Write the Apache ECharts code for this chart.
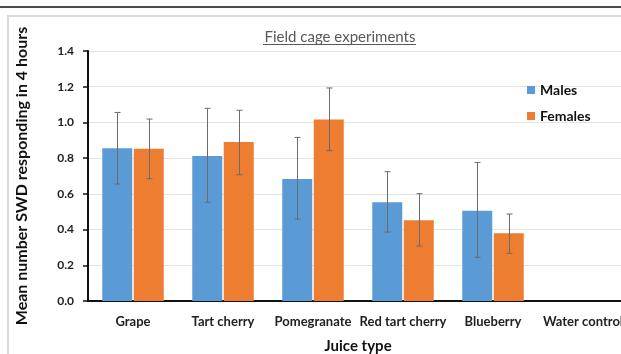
<!DOCTYPE html>
<html><head><meta charset="utf-8">
<script src="https://cdn.jsdelivr.net/npm/echarts@6/dist/echarts.min.js"></script>
<style>html,body{margin:0;padding:0;background:#fff;overflow:hidden}#c{width:621px;height:354px}</style>
</head><body><div id="c"></div>
<script>
const categories = ['Grape','Tart cherry','Pomegranate','Red tart cherry','Blueberry','Water control'];
const malesMean = [0.855, 0.812, 0.683, 0.553, 0.506, 0];
const malesLow  = [0.655, 0.553, 0.459, 0.386, 0.245, 0];
const malesHigh = [1.056, 1.079, 0.916, 0.724, 0.776, 0];
const femalesMean = [0.853, 0.890, 1.017, 0.452, 0.379, 0];
const femalesLow  = [0.685, 0.707, 0.842, 0.308, 0.267, 0];
const femalesHigh = [1.019, 1.068, 1.193, 0.601, 0.487, 0];
const yTicks = [0.0, 0.2, 0.4, 0.6, 0.8, 1.0, 1.2, 1.4];

const chart = echarts.init(document.getElementById('c'));
const font = 'Lato, "Open Sans", "DejaVu Sans", sans-serif';

function errSeries(low, high, offset, name) {
  return {
    type: 'custom', name: name + ' err', silent: true, z: 10,
    data: categories.map((c, i) => [i, low[i], high[i]]).filter(d => d[2] > 0),
    renderItem: function (params, api) {
      const i = api.value(0);
      const p0 = api.coord([i, api.value(1)]);
      const p1 = api.coord([i, api.value(2)]);
      const x = Math.round(p0[0] + offset) + 0.5;
      const cap = 3;
      const st = {stroke: '#6b6b6b', lineWidth: 1};
      return {type: 'group', children: [
        {type: 'line', shape: {x1: x, y1: p0[1], x2: x, y2: p1[1]}, style: st},
        {type: 'line', shape: {x1: x - cap, y1: p0[1], x2: x + cap, y2: p0[1]}, style: st},
        {type: 'line', shape: {x1: x - cap, y1: p1[1], x2: x + cap, y2: p1[1]}, style: st}
      ]};
    }
  };
}

chart.setOption({
  animation: false,
  backgroundColor: '#fff',
  textStyle: {fontFamily: font},
  title: {
    text: 'Field cage experiments', left: 335, top: 25, textAlign: 'center',
    textStyle: {fontSize: 15, fontWeight: 'normal', color: '#595959', fontFamily: font}
  },
  graphic: [
    {type: 'line', shape: {x1: 0, y1: 7, x2: 621, y2: 7}, style: {stroke: '#111', lineWidth: 1.5}},
    {type: 'polyline', shape: {points: [[8, 354], [8, 16], [621, 16]]}, style: {stroke: '#d9d9d9', lineWidth: 2, fill: null}},
    {type: 'line', shape: {x1: 263, y1: 44.5, x2: 416, y2: 44.5}, style: {stroke: '#595959', lineWidth: 1}}
  ],
  legend: {
    orient: 'vertical', left: 522, top: 78, itemGap: 12,
    itemWidth: 8, itemHeight: 8, icon: 'rect',
    textStyle: {fontSize: 14, fontWeight: 'bold', color: '#111', fontFamily: font},
    data: ['Males', 'Females']
  },
  grid: {left: 88, right: -7, top: 51, bottom: 53, containLabel: false, outerBoundsMode: 'none'},
  xAxis: {
    type: 'category', data: categories,
    axisLine: {lineStyle: {color: '#111', width: 2}},
    axisTick: {show: false},
    axisLabel: {fontSize: 13, fontWeight: 'bold', color: '#222', margin: 14, interval: 0},
    name: 'Juice type', nameLocation: 'middle', nameGap: 38,
    nameTextStyle: {fontSize: 15, fontWeight: 'bold', color: '#111'}
  },
  yAxis: {
    type: 'value', min: 0, max: 1.4, interval: 0.2,
    axisLine: {show: true, lineStyle: {color: '#111', width: 2}},
    axisTick: {show: true, inside: false, length: 5, lineStyle: {color: '#111', width: 1.5}},
    axisLabel: {fontSize: 12, fontWeight: 'bold', color: '#222', margin: 14,
      formatter: v => { const t = yTicks.find(k => Math.abs(k - v) < 1e-6); return (t !== undefined ? t : v).toFixed(1); }},
    splitLine: {lineStyle: {color: '#e3e3e3', width: 1}},
    name: 'Mean number SWD responding in 4 hours', nameLocation: 'middle', nameGap: 58,
    nameTextStyle: {fontSize: 16, fontWeight: 'bold', color: '#111'}
  },
  series: [
    {name: 'Males', type: 'bar', data: malesMean, barWidth: 30, barGap: '5%',
      itemStyle: {color: '#5B9BD5', borderWidth: 0}},
    {name: 'Females', type: 'bar', data: femalesMean, barWidth: 30, barGap: '5%',
      itemStyle: {color: '#ED7D31', borderWidth: 0}},
    errSeries(malesLow, malesHigh, -15.75, 'Males'),
    errSeries(femalesLow, femalesHigh, 15.75, 'Females')
  ]
});
</script></body></html>
